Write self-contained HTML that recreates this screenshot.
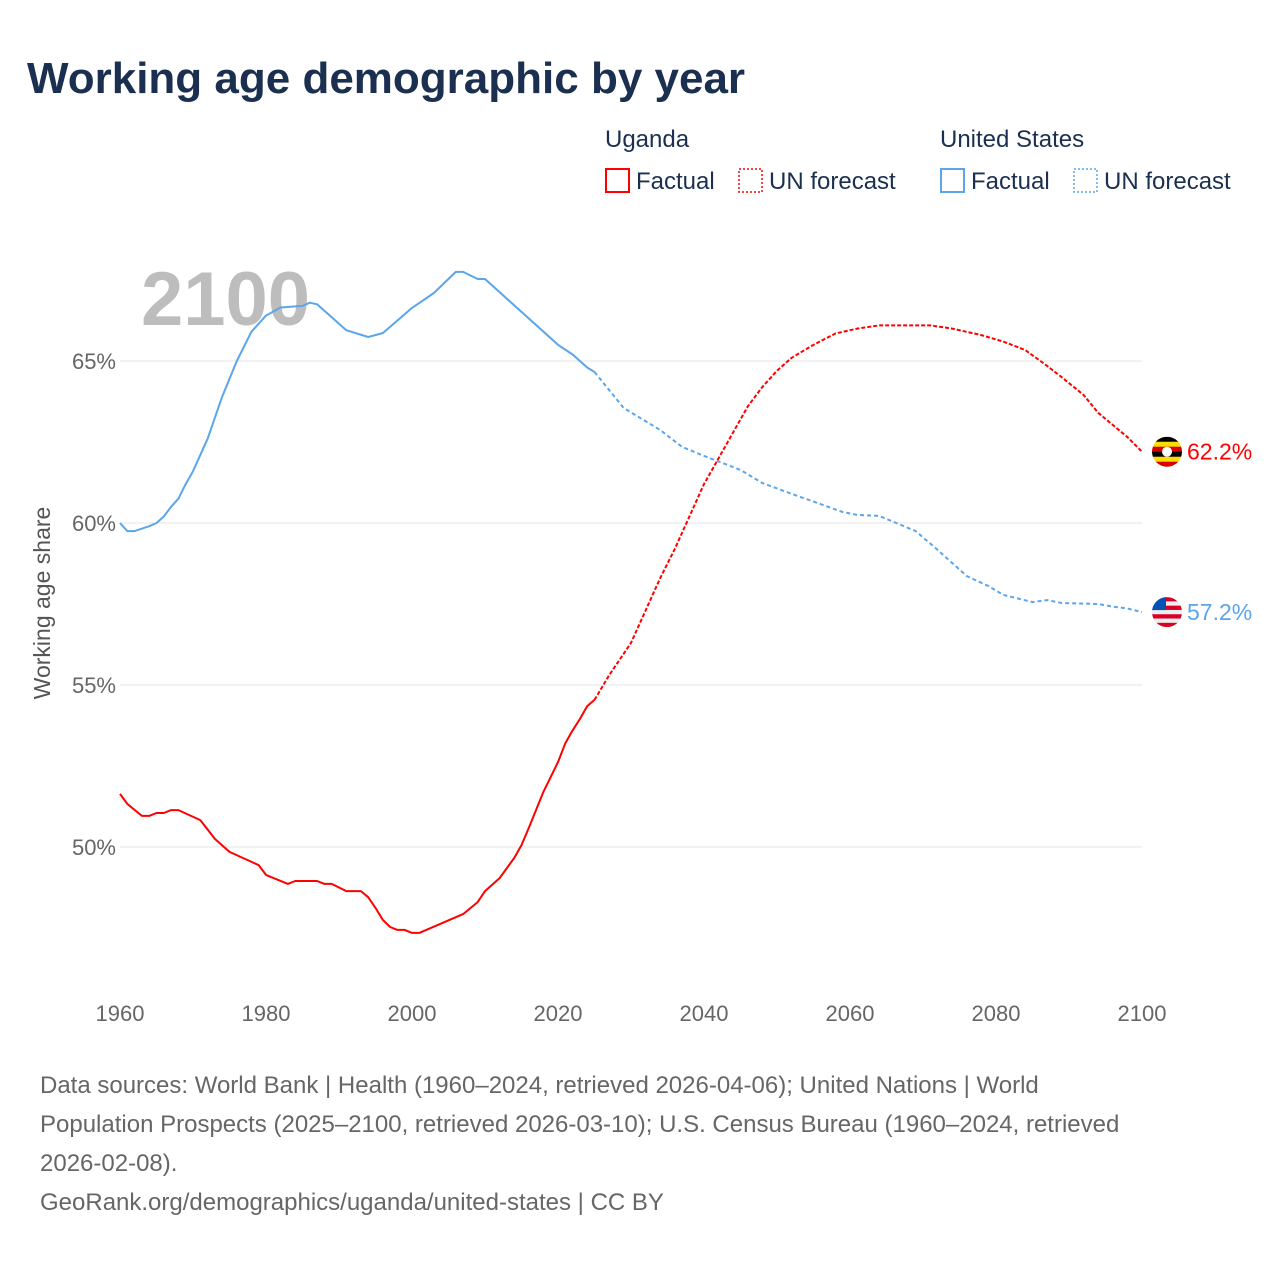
<!DOCTYPE html>
<html><head><meta charset="utf-8">
<style>
body{margin:0;background:#fff;width:1280px;height:1280px;overflow:hidden;font-family:"Liberation Sans",sans-serif}
svg text{font-family:"Liberation Sans",sans-serif}
</style></head>
<body>
<svg id="chart" width="1280" height="1280" viewBox="0 0 1280 1280" xmlns="http://www.w3.org/2000/svg">
<text x="27" y="93" font-size="44" font-weight="bold" fill="#1b3050">Working age demographic by year</text>
<g font-size="24" fill="#1b3050">
<text x="605" y="147">Uganda</text>
<text x="940" y="147">United States</text>
<g><rect x="606" y="169" width="23" height="23" fill="none" stroke="#ff0000" stroke-width="2"/><text x="636" y="189">Factual</text></g>
<g><rect x="739" y="169" width="23" height="23" fill="none" stroke="#ff0000" stroke-width="1.5" stroke-dasharray="2,2"/><text x="769" y="189">UN forecast</text></g>
<g><rect x="941" y="169" width="23" height="23" fill="none" stroke="#5ba5ea" stroke-width="2"/><text x="971" y="189">Factual</text></g>
<g><rect x="1074" y="169" width="23" height="23" fill="none" stroke="#5ba5ea" stroke-width="1.5" stroke-dasharray="2,2"/><text x="1104" y="189">UN forecast</text></g>
</g>
<text x="141" y="325" font-size="76" font-weight="bold" fill="#bdbdbd">2100</text>
<text transform="translate(50,603) rotate(-90)" text-anchor="middle" font-size="23" fill="#555">Working age share</text>
<g id="grid"></g><g id="marks"></g>
<g font-size="24" fill="#666">
<text x="40" y="1093">Data sources: World Bank | Health (1960–2024, retrieved 2026-04-06); United Nations | World</text>
<text x="40" y="1132">Population Prospects (2025–2100, retrieved 2026-03-10); U.S. Census Bureau (1960–2024, retrieved</text>
<text x="40" y="1171">2026-02-08).</text>
<text x="40" y="1210">GeoRank.org/demographics/uganda/united-states | CC BY</text>
</g>
</svg>
<script>
const xTicks=[1960,1980,2000,2020,2040,2060,2080,2100];
const yTicks=[50,55,60,65];
const ugYears=[1960,1961,1963,1964,1965,1966,1967,1968,1971,1973,1975,1979,1980,1983,1984,1987,1988,1989,1991,1993,1994,1995,1996,1997,1998,1999,2000,2001,2007,2009,2010,2012,2014,2015,2016,2018,2020,2021,2022,2023,2024,2025];
const ugVals=[51.64,51.33,50.96,50.96,51.05,51.05,51.14,51.14,50.83,50.25,49.85,49.44,49.14,48.86,48.95,48.95,48.86,48.86,48.64,48.64,48.45,48.12,47.75,47.53,47.44,47.44,47.35,47.35,47.93,48.3,48.64,49.04,49.66,50.06,50.59,51.7,52.62,53.2,53.6,53.95,54.35,54.54];
const ugFYears=[2025,2027,2030,2032,2034,2036,2038,2040,2042,2044,2046,2048,2050,2052,2055,2058,2061,2064,2071,2074,2078,2081,2084,2087,2089,2092,2094,2098,2100];
const ugFVals=[54.54,55.3,56.3,57.3,58.3,59.2,60.2,61.2,62.0,62.8,63.6,64.2,64.7,65.1,65.5,65.85,66.0,66.1,66.1,66.0,65.8,65.6,65.34,64.85,64.5,63.95,63.4,62.65,62.2];
const usYears=[1960,1961,1962,1964,1965,1966,1967,1968,1969,1970,1972,1974,1976,1978,1980,1982,1985,1986,1987,1991,1994,1996,2000,2003,2006,2007,2009,2010,2020,2022,2024,2025];
const usVals=[60.0,59.75,59.75,59.9,60.0,60.2,60.5,60.75,61.2,61.6,62.6,63.9,65.0,65.9,66.4,66.65,66.7,66.8,66.75,65.95,65.74,65.86,66.64,67.1,67.75,67.75,67.53,67.53,65.5,65.2,64.8,64.66];
const usFYears=[2025,2029,2034,2037,2040,2045,2048,2052,2059,2061,2064,2069,2072,2076,2079,2081,2085,2087,2089,2094,2096,2098,2100];
const usFVals=[64.66,63.55,62.87,62.35,62.07,61.64,61.23,60.9,60.34,60.25,60.22,59.75,59.17,58.36,58.05,57.78,57.56,57.62,57.53,57.5,57.42,57.36,57.25];
const NS='http://www.w3.org/2000/svg';
const X=y=>120+(y-1960)*(1022/140);
const Y=v=>361+(65-v)*32.4;
const grid=document.getElementById('grid'),marks=document.getElementById('marks');
function mk(t,a,p){const e=document.createElementNS(NS,t);for(const k in a)e.setAttribute(k,a[k]);p.appendChild(e);return e;}
yTicks.forEach(v=>{
 const l=mk('line',{x1:120,x2:1142,y1:Y(v),y2:Y(v),stroke:'#e6e6e6','stroke-width':1},grid);
 
 
 const t=mk('text',{x:116,y:Y(v)+8,'text-anchor':'end','font-size':22,fill:'#666'},grid);
 t.textContent=v+'%';
 
 
});
xTicks.forEach(v=>{
 const t=mk('text',{x:X(v),y:1021,'text-anchor':'middle','font-size':22,fill:'#666'},grid);
 t.textContent=v;
 
 
});
function line(ys,vs,color,dash,name){
 const d=ys.map((y,i)=>(i?'L':'M')+X(y).toFixed(1)+','+Y(vs[i]).toFixed(1)).join('');
 const p=mk('path',{d:d,fill:'none',stroke:color,'stroke-width':2,'stroke-linejoin':'round'},marks);
 if(dash)p.setAttribute('stroke-dasharray',dash);
 
 
}
line(usYears,usVals,'#5ba5ea',null,'us-factual-line');
line(usFYears,usFVals,'#5ba5ea','4,3','us-forecast-line');
line(ugYears,ugVals,'#ff0000',null,'uganda-factual-line');
line(ugFYears,ugFVals,'#ff0000','4,2','uganda-forecast-line');
function flag(cy,cols,name){
 const g=mk('g',{},marks);
 
 
 const cx=1167,r=15;
 const cp=mk('clipPath',{id:'c'+name},g);mk('circle',{cx:cx,cy:cy,r:r},cp);
 const h=2*r/cols.length;
 cols.forEach((c,i)=>mk('rect',{x:cx-r,y:cy-r+i*h,width:2*r,height:h+0.5,fill:c,'clip-path':'url(#c'+name+')'},g));
 return g;
}
const ugY=Y(ugFVals[ugFVals.length-1]),usY=Y(usFVals[usFVals.length-1]);
const ug=flag(ugY,['#000','#fcdc04','#d90000','#000','#fcdc04','#d90000'],'uganda-end-flag');
mk('circle',{cx:1167,cy:ugY,r:5,fill:'#fff'},ug);
const us=flag(usY,['#d80027','#eee','#d80027','#eee','#d80027','#eee','#d80027'],'us-end-flag');
mk('rect',{x:1152,y:usY-15,width:14,height:13,fill:'#0052b4','clip-path':'url(#cus-end-flag)'},us);
const t1=mk('text',{x:1187,y:ugY+8,'font-size':23,fill:'#ff0000'},marks);
t1.textContent=ugFVals[ugFVals.length-1].toFixed(1)+'%';


const t2=mk('text',{x:1187,y:usY+8,'font-size':23,fill:'#5ba5ea'},marks);
t2.textContent='57.2%';


</script>
</body></html>
